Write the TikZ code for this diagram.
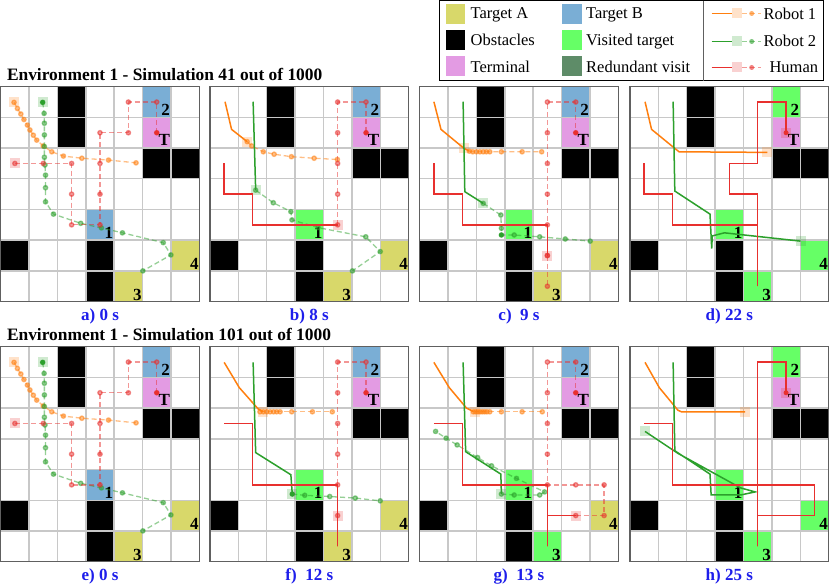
\documentclass[tikz,border=0pt]{standalone}
\usepackage{fontspec}
\setmainfont{Liberation Serif}
\definecolor{tAC}{HTML}{D8D86A}
\definecolor{tBC}{HTML}{7AAED5}
\definecolor{visC}{HTML}{66FF66}
\definecolor{termC}{HTML}{E39BE3}
\definecolor{redunC}{HTML}{5E8C68}
\definecolor{orC}{HTML}{FF7F0E}
\definecolor{grC}{HTML}{2CA02C}
\definecolor{rdC}{HTML}{E8302E}
\definecolor{glC}{HTML}{C8C8C8}
\definecolor{frC}{HTML}{606060}
\definecolor{lbC}{HTML}{1E1EEB}
\tikzset{
  cells/.style 2 args={shift={(#1,#2)}, x=28.37pt, y=-30.7pt},
  gridline/.style={glC, line width=1.4pt},
  frameline/.style={frC, line width=1.2pt},
  clab/.style={font=\fontsize{17}{20}\selectfont\bfseries, anchor=base east, inner sep=0pt},
  plab/.style={font=\fontsize{17}{20}\selectfont\bfseries, text=lbC, anchor=base, inner sep=0pt},
  ttl/.style={font=\fontsize{17.4}{20}\selectfont\bfseries, anchor=base west, inner sep=0pt},
  legtext/.style={font=\fontsize{16.5}{19}\selectfont, anchor=base west, inner sep=0pt},
  travline/.style={line width=1.5pt, line join=miter},
  planline/.style={line width=1.3pt, dash pattern=on 5pt off 3pt, opacity=0.5, line join=round},
  curbox/.style={rectangle, inner sep=0pt, minimum size=10pt, fill opacity=0.22, draw=none},
  dotn/.style={circle, inner sep=0pt, minimum size=5pt, draw=none},
}
\newcommand\envbase[5]{%
  \fill[#1] (3,4) rectangle (4,5);
  \fill[#2] (5,0) rectangle (6,1);
  \fill[#3] (4,6) rectangle (5,7);
  \fill[#4] (6,5) rectangle (7,6);
  \fill[termC] (5,1) rectangle (6,2);
  \foreach \cc/\rr in {2/0,2/1,5/2,6/2,0/5,3/5,3/6} {\fill[black] (\cc,\rr) rectangle ++(1,1);}
  \foreach \i in {1,...,6} {\draw[gridline] (\i,0) -- (\i,7); \draw[gridline] (0,\i) -- (7,\i);}
  \draw[frameline] (0,0) rectangle (7,7);
  \node[clab] (#5-l2) at (5.97,0.95) {2};
  \node[clab] (#5-lT) at (5.97,1.93) {T};
  \node[clab] (#5-l1) at (3.97,4.95) {1};
  \node[clab] (#5-l4) at (6.98,5.96) {4};
  \node[clab] (#5-l3) at (4.97,6.96) {3};
}
\newcommand\trav[2]{\draw[travline, color=#1] plot[sharp plot] coordinates {#2};}
\newcommand\plan[2]{\draw[planline, color=#1] plot[sharp plot, mark=*, mark size=2.2pt, mark options={solid, fill=#1, draw=none}] coordinates {#2};}
\newcommand\cur[2]{\node[curbox, fill=#1] at #2 {};}
\newcommand\simstart[1]{%
  \envbase{tBC}{tBC}{tAC}{tAC}{#1}
  \cur{orC}{(0.47,0.51)}
  \plan{orC}{(0.47,0.51) (0.59,0.71) (0.71,0.89) (0.82,1.07) (0.94,1.25) (1.03,1.41) (1.15,1.58) (1.27,1.74) (1.50,1.93) (1.80,2.12) (2.21,2.26) (2.86,2.33) (3.80,2.39) (4.77,2.48)}
  \cur{grC}{(1.48,0.51)}
  \plan{grC}{(1.48,0.51) (1.53,0.87) (1.54,1.19) (1.54,1.57) (1.54,1.95) (1.54,2.30) (1.56,2.55) (1.58,2.88) (1.58,3.29) (1.58,3.75) (1.86,4.15) (2.82,4.45) (3.55,4.60) (4.29,4.76) (5.73,5.08) (6.00,5.48) (5.01,6.00)}
  \node[dotn, fill=grC] (#1-g0) at (1.48,0.51) {};
  \cur{rdC}{(0.5,2.5)}
  \plan{rdC}{(0.5,2.5) (1.5,2.5) (2.5,2.5) (2.5,3.5) (2.5,4.5) (3.5,4.5) (3.5,3.5) (3.5,2.5) (3.5,1.5) (4.5,1.5) (4.5,0.5) (5.5,0.5) (5.5,1.5)}
  \node[dotn, fill=rdC] (#1-hT) at (5.5,1.5) {};
}
\begin{document}
\begin{tikzpicture}[x=1pt, y=-1pt]
\useasboundingbox (0,0) rectangle (830,585);
\fill[white] (0,0) rectangle (830,585);

% ---------- legend ----------
\draw[black, line width=1pt] (439,0.7) rectangle (823.5,81);
\draw[frC, line width=1pt] (703.3,0.7) -- (703.3,81);
\fill[tAC] (446,4) rectangle (465,24);
\fill[black] (446,30.5) rectangle (465,50.5);
\fill[termC] (446,56.5) rectangle (465,76.5);
\fill[tBC] (562,4) rectangle (582,24);
\fill[visC] (562,30.5) rectangle (582,50.5);
\fill[redunC] (562,56.5) rectangle (582,76.5);
\node[legtext] (lgA) at (470.5,18.5) {Target A};
\node[legtext] (lgO) at (470.5,45.5) {Obstacles};
\node[legtext] (lgT) at (470.5,72.5) {Terminal};
\node[legtext] (lgB) at (586,18.5) {Target B};
\node[legtext] (lgV) at (586,45.5) {Visited target};
\node[legtext] (lgR) at (586,72.5) {Redundant visit};
\foreach \yy/\col in {13.5/orC, 41.5/grC, 67.5/rdC} {
  \draw[travline, color=\col] (711.7,\yy) -- (732,\yy);
  \node[curbox, fill=\col] at (736.8,\yy) {};
  \draw[planline, color=\col] (742,\yy) -- (760.5,\yy);
  \node[dotn, fill=\col, opacity=0.6] at (751.7,\yy) {};
}
\node[legtext] (lgr1) at (763.3,19.5) {Robot 1};
\node[legtext] (lgr2) at (763.3,46.8) {Robot 2};
\node[legtext] (lgh) at (769.3,72.5) {Human};

% ---------- titles ----------
\node[ttl] (title1) at (6.8,80.6) {Environment 1 - Simulation 41 out of 1000};
\node[ttl] (title2) at (6.8,340.6) {Environment 1 - Simulation 101 out of 1000};

% ---------- panel labels ----------
\node[plab] (la) at (100,320.5) {a) 0 s};
\node[plab] (lb) at (309.3,320.5) {b) 8 s};
\node[plab] (lc) at (519,320.5) {c)\ \ 9 s};
\node[plab] (ld) at (729.3,320.5) {d) 22 s};
\node[plab] (le) at (100,580.3) {e) 0 s};
\node[plab] (lf) at (309.3,580.3) {f)\ \ 12 s};
\node[plab] (lg) at (519,580.3) {g)\ \ 13 s};
\node[plab] (lh) at (729.3,580.3) {h) 25 s};

% ---------- panel a ----------
\begin{scope}[cells={0.7}{86.7}]
\simstart{pa}
\end{scope}

% ---------- panel b ----------
\begin{scope}[cells={210}{86.7}]
\envbase{visC}{tBC}{tAC}{tAC}{pb}
\trav{orC}{(0.53,0.49) (0.76,1.39) (1.31,1.79)}
\cur{orC}{(1.31,1.79)}
\plan{orC}{(1.31,1.79) (1.47,1.93) (1.88,2.12) (2.26,2.20) (2.87,2.28) (3.67,2.33) (4.49,2.37)}
\trav{grC}{(1.52,0.49) (1.61,3.37)}
\cur{grC}{(1.61,3.37)}
\plan{grC}{(1.61,3.37) (2.23,3.78) (2.85,4.07) (2.89,4.34) (3.81,4.59) (5.49,4.89) (6.0,5.37) (5.02,6.0)}
\trav{rdC}{(0.5,2.5) (0.5,3.5) (1.5,3.5) (1.5,4.5) (4.5,4.5)}
\cur{rdC}{(4.5,4.5)}
\plan{rdC}{(4.5,4.5) (4.5,3.5) (4.5,2.5) (4.5,1.5) (4.5,0.5) (5.5,0.5) (5.5,1.5)}
\node[dotn, fill=rdC] (pb-hT) at (5.5,1.5) {};
\end{scope}

% ---------- panel c ----------
\begin{scope}[cells={419.7}{86.7}]
\envbase{visC}{tBC}{tAC}{tAC}{pc}
\trav{orC}{(0.50,0.49) (0.75,1.39) (1.55,2.0) (1.75,2.1)}
\cur{orC}{(1.55,2.0)}
\plan{orC}{(1.75,2.1) (1.87,2.12) (2.0,2.12) (2.12,2.12) (2.24,2.12) (2.35,2.12) (2.47,2.12) (2.88,2.12) (3.61,2.12) (4.30,2.12)}
\trav{grC}{(1.53,0.49) (1.59,3.42) (2.24,3.80)}
\cur{grC}{(2.24,3.80)}
\plan{grC}{(2.24,3.80) (2.86,4.18) (2.88,4.61) (2.88,4.83) (3.33,4.83) (4.23,4.89) (5.13,4.96) (6.01,5.03)}
\node[dotn, fill=grC] (pc-g1) at (2.88,4.83) {};
\trav{rdC}{(0.5,2.5) (0.5,3.5) (1.5,3.5) (1.5,4.5) (4.5,4.5) (4.5,5.5)}
\cur{rdC}{(4.5,5.5)}
\plan{rdC}{(4.5,5.5) (4.5,6.5) (4.5,5.5) (4.5,4.5) (4.5,3.5) (4.5,2.5) (4.5,1.5) (4.5,0.5) (5.5,0.5) (5.5,1.5)}
\node[dotn, fill=rdC] (pc-hT) at (5.5,1.5) {};
\end{scope}

% ---------- panel d ----------
\begin{scope}[cells={630}{86.7}]
\envbase{visC}{visC}{visC}{visC}{pd}
\trav{orC}{(0.53,0.49) (0.76,1.39) (1.58,2.01) (1.73,2.12) (4.84,2.14)}
\cur{orC}{(4.84,2.14)}
\trav{grC}{(1.52,0.49) (1.58,3.40) (2.82,4.15) (2.88,5.27) (2.9,4.86) (3.33,4.76) (6.01,5.03)}
\cur{grC}{(6.01,5.03)}
\trav{rdC}{(0.5,2.5) (0.5,3.5) (1.5,3.5) (1.5,4.5) (4.5,4.5) (4.5,6.5) (4.5,3.5) (3.5,3.5) (3.5,2.5) (4.5,2.5) (4.5,0.5) (5.5,0.5) (5.5,1.5)}
\cur{rdC}{(5.5,1.5)}
\node[dotn, fill=rdC] (pd-hT) at (5.5,1.5) {};
\end{scope}

% ---------- panel e ----------
\begin{scope}[cells={0.7}{346.7}]
\simstart{pe}
\end{scope}

% ---------- panel f ----------
\begin{scope}[cells={210}{346.7}]
\envbase{visC}{tBC}{tAC}{tAC}{pf}
\trav{orC}{(0.50,0.51) (1.03,1.33) (1.70,2.03) (1.88,2.12)}
\cur{orC}{(1.88,2.12)}
\plan{orC}{(1.76,2.12) (1.88,2.12) (2.0,2.12) (2.12,2.12) (2.24,2.12) (2.35,2.12) (2.47,2.12) (2.88,2.12) (3.61,2.12) (4.31,2.12)}
\trav{grC}{(1.52,0.51) (1.61,3.45) (2.85,4.17) (2.90,4.80)}
\cur{grC}{(2.90,4.80)}
\plan{grC}{(2.90,4.80) (3.34,4.84) (4.22,4.88) (5.12,4.93) (6.0,5.02)}
\node[dotn, fill=grC] (pf-g1) at (2.90,4.80) {};
\trav{rdC}{(0.5,2.5) (1.5,2.5) (1.5,4.5) (4.5,4.5) (4.5,6.5) (4.5,5.5)}
\cur{rdC}{(4.5,5.5)}
\plan{rdC}{(4.5,5.5) (4.5,4.5) (4.5,3.5) (4.5,2.5) (4.5,1.5) (4.5,0.5) (5.5,0.5) (5.5,1.5)}
\node[dotn, fill=rdC] (pf-hT) at (5.5,1.5) {};
\end{scope}

% ---------- panel g ----------
\begin{scope}[cells={419.7}{346.7}]
\envbase{visC}{tBC}{visC}{tAC}{pg}
\trav{orC}{(0.50,0.51) (1.04,1.33) (1.65,2.0) (1.89,2.11)}
\cur{orC}{(1.95,2.12)}
\plan{orC}{(1.89,2.12) (1.97,2.12) (2.05,2.12) (2.13,2.12) (2.21,2.12) (2.29,2.12) (2.37,2.12) (2.47,2.12) (2.88,2.12) (3.61,2.12) (4.32,2.12)}
\trav{grC}{(1.53,0.51) (1.62,3.42) (2.86,4.15) (2.88,4.80)}
\cur{grC}{(2.88,4.80)}
\plan{grC}{(2.88,4.80) (3.33,4.83) (4.23,4.83) (4.40,4.73) (3.41,4.29) (2.53,3.88) (2.04,3.61) (1.32,3.20) (0.93,2.98) (0.56,2.76)}
\trav{rdC}{(0.5,2.5) (1.5,2.5) (1.5,4.5) (4.5,4.5) (4.5,6.5) (4.5,5.5) (5.5,5.5)}
\cur{rdC}{(5.5,5.5)}
\plan{rdC}{(5.5,5.5) (6.5,5.5) (6.5,4.5) (5.5,4.5) (4.5,4.5) (4.5,3.5) (4.5,2.5) (4.5,1.5) (4.5,0.5) (5.5,0.5) (5.5,1.5)}
\node[dotn, fill=rdC] (pg-hT) at (5.5,1.5) {};
\end{scope}

% ---------- panel h ----------
\begin{scope}[cells={630}{346.7}]
\envbase{visC}{visC}{visC}{visC}{ph}
\trav{orC}{(0.53,0.51) (1.03,1.33) (1.69,2.07) (1.81,2.12) (4.06,2.12)}
\cur{orC}{(4.06,2.12)}
\trav{grC}{(1.52,0.51) (1.58,3.39) (2.82,4.15) (2.86,4.83) (3.9,4.83) (4.41,4.73) (3.9,4.6) (1.7,3.48) (1.6,3.42) (0.53,2.76)}
\cur{grC}{(0.53,2.76)}
\trav{rdC}{(0.5,2.5) (1.5,2.5) (1.5,4.5) (4.5,4.5) (4.5,6.5) (4.5,5.5) (6.5,5.5) (6.5,4.5) (4.5,4.5) (4.5,0.5) (5.5,0.5) (5.5,1.5)}
\cur{rdC}{(5.5,1.5)}
\node[dotn, fill=rdC] (ph-hT) at (5.5,1.5) {};
\end{scope}
\end{tikzpicture}
\end{document}
